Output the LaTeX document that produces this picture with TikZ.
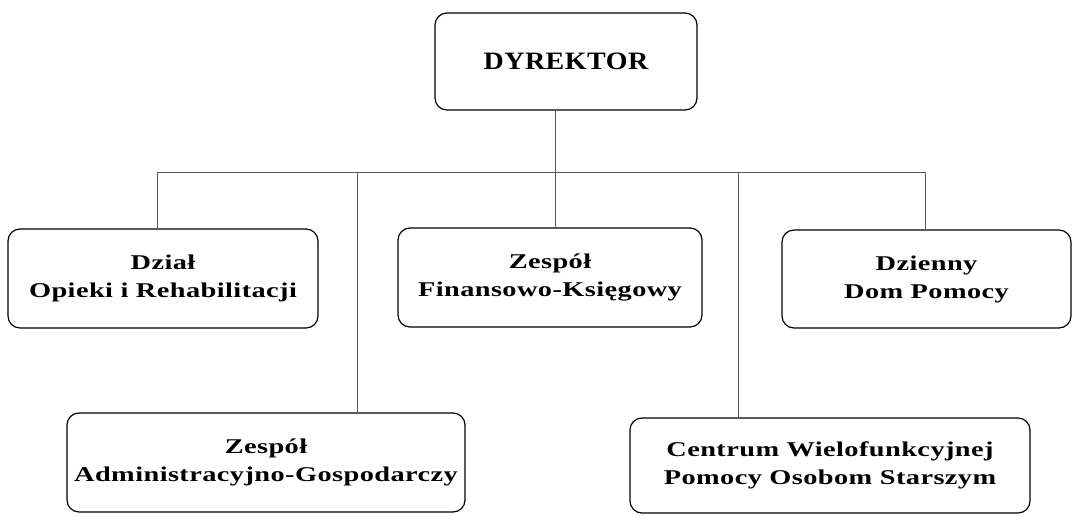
\documentclass[tikz,border=0pt]{standalone}
\usepackage{fontspec}
\setmainfont{Liberation Serif}
\newfontfamily\boxfont[FakeStretch=1.35,LetterSpace=2]{Liberation Serif}
\newfontfamily\topfont[FakeStretch=1.12,LetterSpace=2]{Liberation Serif}
\tikzset{
  orgbox/.style={draw=black, line width=1.2pt, rounded corners=12pt, align=center, inner sep=0pt,
    font=\boxfont\bfseries\fontsize{21}{28}\selectfont},
  topbox/.style={orgbox, font=\topfont\bfseries\fontsize{25}{30}\selectfont},
  conn/.style={draw=black!65, line width=0.9pt}
}
\begin{document}
\begin{tikzpicture}[x=1pt,y=-1pt]
\useasboundingbox (0,0) rectangle (1073,515);
\node[topbox, minimum width=262pt, minimum height=97pt] (dyr) at (566,61.5) {DYREKTOR};
\node[orgbox, minimum width=310pt, minimum height=99pt] (dz) at (163,278.5) {Dział\\Opieki i Rehabilitacji};
\node[orgbox, minimum width=304pt, minimum height=99pt] (fin) at (550,277.5) {Zespół\\Finansowo-Księgowy};
\node[orgbox, minimum width=289pt, minimum height=98pt] (dd) at (926.5,279) {Dzienny\\Dom Pomocy};
\node[orgbox, minimum width=398pt, minimum height=99pt] (adm) at (266,462.5) {Zespół\\Administracyjno-Gospodarczy};
\node[orgbox, minimum width=400pt, minimum height=95pt] (cen) at (830,465.5) {Centrum Wielofunkcyjnej\\Pomocy Osobom Starszym};
\coordinate (bc) at (555,172);
\coordinate (bl) at (157,172);
\coordinate (br) at (925,172);
\coordinate (b2) at (357,172);
\coordinate (b4) at (738,172);
\draw[conn] (bc |- dyr.south) -- (bc);
\draw[conn] (bl) -- (br);
\draw[conn] (bl) -- (bl |- dz.north);
\draw[conn] (b2) -- (b2 |- adm.north);
\draw[conn] (bc) -- (bc |- fin.north);
\draw[conn] (b4) -- (b4 |- cen.north);
\draw[conn] (br) -- (br |- dd.north);
\end{tikzpicture}
\end{document}
